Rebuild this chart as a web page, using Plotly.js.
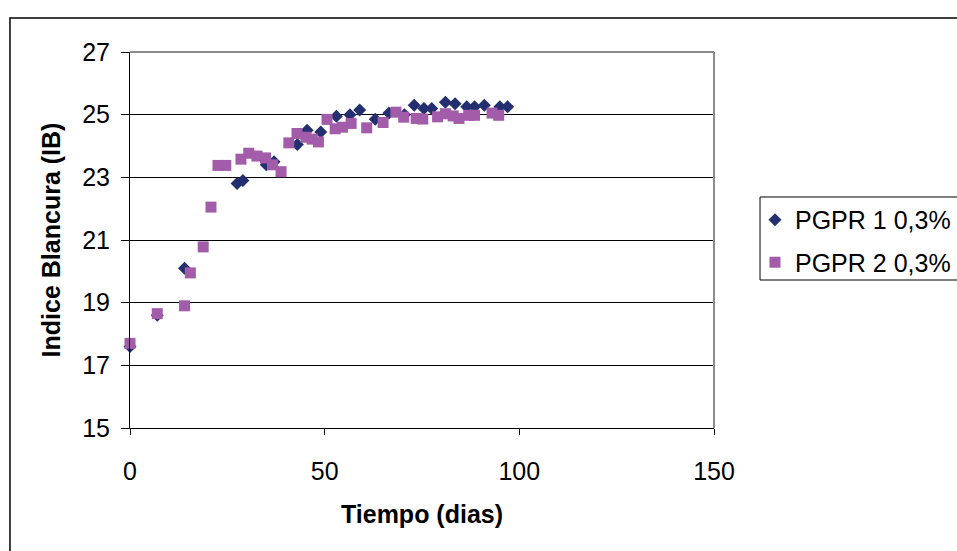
<!DOCTYPE html>
<html>
<head>
<meta charset="utf-8">
<script src="https://cdn.plot.ly/plotly-3.0.1.min.js"></script>
<style>
  html, body { margin: 0; padding: 0; background: #ffffff; }
  #chart { width: 957px; height: 551px; }
</style>
</head>
<body>
<div id="chart"></div>
<script>
// Índice de blancura frente al tiempo para dos tratamientos PGPR al 0,3%
const seriesNames = ['PGPR 1 0,3%', 'PGPR 2 0,3%'];

const diasPGPR1 = [0, 7, 14, 27.5, 29, 35, 37, 43, 45.5, 49, 53, 56.5, 59, 63, 66.5, 70.5, 73, 75.5, 77.5, 81, 83.5, 86.5, 88.5, 91, 95, 97];
const ibPGPR1   = [17.6, 18.6, 20.1, 22.8, 22.9, 23.4, 23.5, 24.05, 24.5, 24.45, 24.95, 25.0, 25.15, 24.85, 25.05, 25.0, 25.3, 25.2, 25.2, 25.4, 25.35, 25.25, 25.25, 25.3, 25.25, 25.25];

const diasPGPR2 = [0, 7, 14, 15.5, 18.8, 20.8, 22.6, 24.6, 28.5, 30.5, 32.6, 34.8, 36.6, 38.8, 40.8, 42.9, 45.2, 46.8, 48.4, 50.6, 52.7, 54.6, 56.8, 60.8, 65, 68.3, 70.3, 73.5, 75.2, 79, 81, 83, 84.5, 87, 88.5, 93, 94.7];
const ibPGPR2   = [17.7, 18.65, 18.9, 19.95, 20.78, 22.05, 23.38, 23.38, 23.58, 23.77, 23.68, 23.62, 23.4, 23.18, 24.1, 24.4, 24.28, 24.22, 24.13, 24.85, 24.55, 24.6, 24.72, 24.58, 24.75, 25.08, 24.92, 24.88, 24.86, 24.93, 25.03, 24.96, 24.88, 24.98, 24.98, 25.05, 24.98];

const xTicks = [0, 50, 100, 150];
const yTicks = [15, 17, 19, 21, 23, 25, 27];

const font = 'Arial, "Liberation Sans", sans-serif';
const fs = 25;

const traces = [
  {
    x: diasPGPR1, y: ibPGPR1, name: seriesNames[0], legendgroup: 'g1',
    type: 'scatter', mode: 'markers', cliponaxis: false,
    marker: { symbol: 'diamond', size: 10, color: '#232f6e' }
  },
  {
    x: diasPGPR2, y: ibPGPR2, name: seriesNames[1], legendgroup: 'g2',
    type: 'scatter', mode: 'markers', cliponaxis: false,
    marker: { symbol: 'square', size: 11, color: '#a25ca9' }
  }
];

const layout = {
  width: 957, height: 551,
  margin: { l: 130, r: 243, t: 52, b: 123, autoexpand: false },
  paper_bgcolor: '#ffffff', plot_bgcolor: '#ffffff',
  font: { family: font, color: '#000000', size: fs },
  showlegend: true,
  legend: {
    x: 1.0702, y: 0.6144, xanchor: 'left', yanchor: 'top',
    borderwidth: 0, bgcolor: 'rgba(0,0,0,0)',
    font: { family: font, size: fs, color: '#000000' },
    itemwidth: 30, tracegroupgap: 7
  },
  xaxis: {
    range: [0, 150], tickvals: xTicks, ticktext: xTicks.map(String),
    showgrid: false, zeroline: false,
    showline: true, linecolor: '#000000', linewidth: 1,
    ticks: 'outside', ticklen: 6, tickcolor: '#000000',
    ticklabelstandoff: 15,
    tickfont: { family: font, size: fs },
    title: { text: 'Tiempo (dias)', font: { family: font, size: fs, weight: 'bold' }, standoff: 21 }
  },
  yaxis: {
    range: [15, 27], tickvals: yTicks, ticktext: yTicks.map(String),
    showgrid: true, gridcolor: '#000000', gridwidth: 1,
    zeroline: false,
    showline: true, linecolor: '#000000', linewidth: 1,
    ticks: 'outside', ticklen: 8, tickcolor: '#000000',
    ticklabelstandoff: 6,
    tickfont: { family: font, size: fs },
    title: { text: 'Indice Blancura (IB)', font: { family: font, size: fs, weight: 'bold' }, standoff: 14 }
  },
  shapes: [
    // plot-area frame, top and right edges
    { type: 'line', xref: 'paper', yref: 'paper', x0: 0, x1: 1, y0: 1, y1: 1,
      line: { color: '#8c8c8c', width: 2 }, layer: 'above' },
    { type: 'line', xref: 'paper', yref: 'paper', x0: 1, x1: 1, y0: 0, y1: 1,
      line: { color: '#8c8c8c', width: 2 }, layer: 'above' },
    // legend box
    { type: 'rect', xref: 'paper', yref: 'paper',
      x0: 1.0788, x1: 1.45, y0: 0.3936, y1: 0.6144,
      line: { color: '#000000', width: 1 }, fillcolor: 'rgba(0,0,0,0)', layer: 'below' },
    // chart-area outline
    { type: 'rect', xref: 'paper', yref: 'paper',
      x0: -0.2055, x1: 1.45, y0: -0.36, y1: 1.0904,
      line: { color: '#000000', width: 1.5 }, fillcolor: 'rgba(0,0,0,0)', layer: 'below' }
  ]
};

Plotly.newPlot('chart', traces, layout, { displayModeBar: false, staticPlot: true });
</script>
</body>
</html>
